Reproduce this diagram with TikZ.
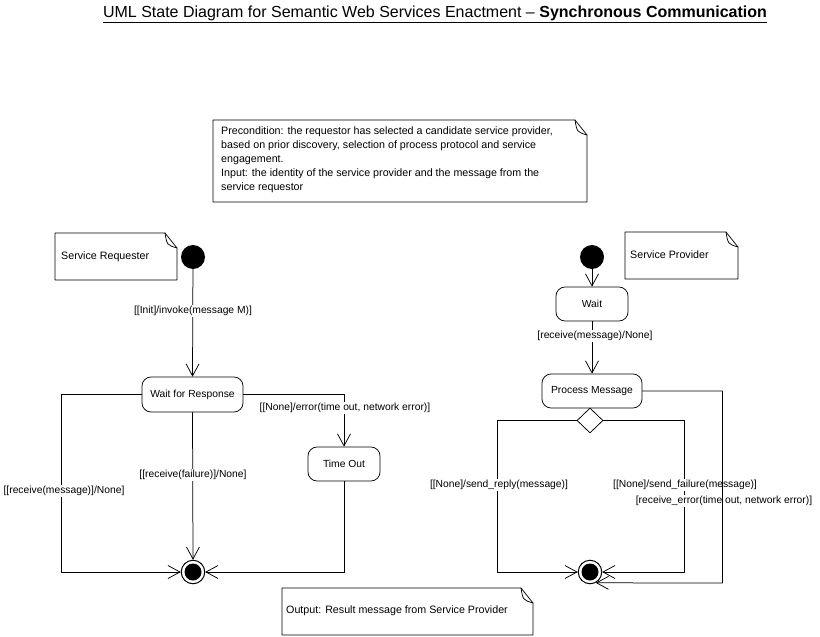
\documentclass[tikz,border=0pt]{standalone}
\usepackage{fontspec}
\setmainfont{Liberation Sans}
\usetikzlibrary{arrows.meta,shapes.geometric}
\tikzset{
  ln/.style={line width=0.75pt, line cap=round, line join=round},
  arr/.style={ln, -{Straight Barb[length=12pt,width=13pt,line width=0.75pt]}},
  statebox/.style={draw, ln, rounded corners=9pt, inner sep=0pt, fill=white, font=\fontsize{10.3}{12}\selectfont},
  lbl/.style={fill=white, inner sep=1pt, font=\fontsize{10.3}{12}\selectfont},
  notetxt/.style={inner sep=0pt, align=left, font=\fontsize{10.7}{13.8}\selectfont},
  notestyle/.style={draw, ln, fill=white},
  startdot/.style={circle, fill=black, minimum size=24pt, inner sep=0pt},
  enddot/.style={circle, draw, line width=1pt, fill=white, minimum size=23.5pt, inner sep=0pt, path picture={\fill[black] (path picture bounding box.center) circle (8.5pt);}},
}
\newcommand{\umlnote}[4]{%
  \draw[notestyle] (#1,#2) -- (#3-12,#2) -- (#3,#2+15) -- (#3,#4) -- (#1,#4) -- cycle;
  \draw[ln] (#3-12,#2) .. controls (#3-10,#2+12) .. (#3,#2+15);}
\begin{document}
\begin{tikzpicture}[x=1pt,y=-1pt]
\useasboundingbox[fill=white] (0,0) rectangle (820,637);

% title
\node[anchor=base, inner sep=0pt, font=\fontsize{16}{19}\selectfont] (title) at (435,17)
  {\underline{UML State Diagram for Semantic Web Services Enactment -- \textbf{Synchronous Communication}}};

% notes
\umlnote{213}{120}{587}{202}
\node[notetxt, anchor=north west] (pre) at (221,127) {Precondition: the requestor has selected a candidate service provider,\\based on prior discovery, selection of process protocol and service\\engagement.\\Input: the identity of the service provider and the message from the\\service requestor};
\umlnote{55}{233}{177}{280}
\node[notetxt, anchor=west] (sreq) at (61,257) {Service Requester};
\umlnote{625}{232}{738}{279}
\node[notetxt, anchor=west] (sprov) at (630,255) {Service Provider};
\umlnote{282}{588}{533}{635}
\node[notetxt, anchor=west] (out) at (286,611) {Output: Result message from Service Provider};

% left machine
\node[startdot] (ls) at (193,257) {};
\node[statebox, minimum width=101pt, minimum height=35pt] (wfr) at (192.5,394.5) {Wait for Response};
\node[statebox, minimum width=72pt, minimum height=34pt] (to) at (344,464) {Time Out};
\node[enddot] (lf) at (193,572) {};

\draw[arr] (ls) -- (wfr.north);
\draw[arr] (wfr.west) -- ++(-80,0) |- (lf.west);
\draw[arr] (wfr.south) -- (lf.north);
\draw[arr] (wfr.east) -| (to.north);
\draw[arr] (to.south) |- (lf.east);

\node[lbl] (l1) at (193,311) {[[Init]/invoke(message M)]};
\node[lbl] (l2) at (64,491) {[[receive(message)]/None]};
\node[lbl] (l3) at (193,475) {[[receive(failure)]/None]};
\node[lbl] (l4) at (345,408) {[[None]/error(time out, network error)]};

% right machine
\node[startdot] (rs) at (592,257) {};
\node[statebox, minimum width=72pt, minimum height=34pt] (wait) at (592,304) {Wait};
\node[statebox, minimum width=100pt, minimum height=34pt] (pm) at (592,391) {Process Message};
\node[diamond, draw, ln, fill=white, minimum width=26pt, minimum height=25pt, inner sep=0pt] (dec) at (590,420.5) {};
\node[enddot] (rf) at (590,572) {};

\draw[arr] (rs) -- (wait.north);
\draw[arr] (wait.south) -- (pm.north);
\node[lbl] (l5) at (595,336) {[receive(message)/None]};

\draw[arr] (dec.west) -- ++(-79,0) |- (rf.west);
\draw[arr] (dec.east) -- ++(81,0) |- (rf.east);
\node[lbl] (l6) at (499,485) {[[None]/send\_reply(message)]};
\node[lbl] (l7) at (685,485) {[[None]/send\_failure(message)]};
\node[lbl] (l8) at (724,501) {[receive\_error(time out, network error)]};
\draw[arr] (pm.east) -- ++(80,0) -- ++(0,192) -- (rf.-62);
\end{tikzpicture}
\end{document}
